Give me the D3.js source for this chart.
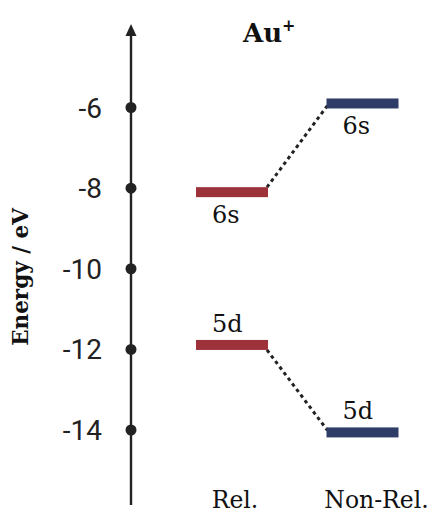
<!DOCTYPE html>
<html>
<head>
<meta charset="utf-8">
<script src="https://cdn.jsdelivr.net/npm/d3@7"></script>
<style>
  html, body { margin: 0; padding: 0; background: #fff; }
  svg { display: block; }
</style>
</head>
<body>
<svg id="chart" width="432" height="515"></svg>
<script>
// ---- data ----
const categories = ["Rel.", "Non-Rel."];
const orbitals = ["6s", "5d"];
const relValues = [-8.10, -11.89];      // Rel.: 6s, 5d (eV)
const nonRelValues = [-5.90, -14.06];   // Non-Rel.: 6s, 5d (eV)
const tickValues = [-6, -8, -10, -12, -14];
const tickLabels = ["-6", "-8", "-10", "-12", "-14"];
const title = "Au";
const titleSup = "+";
const yLabel = "Energy / eV";

// ---- layout ----
const svg = d3.select("#chart");
const axisX = 131;
const y = d3.scaleLinear().domain([-14, -6]).range([430, 107.5]);
const x = d3.scalePoint().domain(categories).range([232, 362.5]);
const barW = 72, barH = 10;
const colors = { "Rel.": "#9e323b", "Non-Rel.": "#2f3c68" };
const ink = "#222";

// axis line + arrow
svg.append("line")
  .attr("x1", axisX).attr("x2", axisX)
  .attr("y1", 505).attr("y2", 32)
  .attr("stroke", ink).attr("stroke-width", 2.4);
svg.append("path")
  .attr("d", `M${axisX},24 L${axisX - 5.5},36 L${axisX + 5.5},36 Z`)
  .attr("fill", ink);

// tick dots & labels
svg.selectAll("circle.tick").data(tickValues).join("circle")
  .attr("class", "tick")
  .attr("cx", axisX).attr("cy", d => y(d)).attr("r", 5.5)
  .attr("fill", ink);
svg.selectAll("text.tick").data(tickValues).join("text")
  .attr("class", "tick")
  .attr("x", 102).attr("y", d => y(d))
  .attr("dy", "0.36em")
  .attr("text-anchor", "end")
  .attr("font-family", "Roboto, sans-serif")
  .attr("font-size", 28)
  .attr("fill", ink)
  .text((d, i) => tickLabels[i]);

// y label
svg.append("text")
  .attr("transform", "translate(28,277) rotate(-90)")
  .attr("text-anchor", "middle")
  .attr("font-family", "'DejaVu Serif', serif")
  .attr("font-weight", "bold")
  .attr("font-size", 21.5)
  .attr("fill", "#111")
  .text(yLabel);

// title
const t = svg.append("text")
  .attr("x", 243).attr("y", 42)
  .attr("text-anchor", "start")
  .attr("font-family", "'DejaVu Serif', serif")
  .attr("font-weight", "bold")
  .attr("font-size", 26)
  .attr("fill", "#111");
t.append("tspan").text(title);
t.append("tspan").attr("font-size", 16).attr("dy", -11).text(titleSup);

// levels
const levels = [];
orbitals.forEach((o, i) => {
  levels.push({ cat: "Rel.", orb: o, v: relValues[i] });
  levels.push({ cat: "Non-Rel.", orb: o, v: nonRelValues[i] });
});

// connectors
orbitals.forEach((o, i) => {
  const r = relValues[i], n = nonRelValues[i];
  const dir = n > r ? -1 : 1; // -1 upward in pixels
  svg.append("line")
    .attr("x1", x("Rel.") + barW / 2 - 1)
    .attr("y1", y(r) + dir * barH / 2)
    .attr("x2", x("Non-Rel.") - barW / 2 + 1)
    .attr("y2", y(n) - dir * 2)
    .attr("stroke", "#222")
    .attr("stroke-width", 3)
    .attr("stroke-dasharray", "3.5,3.5");
});

svg.selectAll("rect.level").data(levels).join("rect")
  .attr("class", "level")
  .attr("x", d => x(d.cat) - barW / 2)
  .attr("y", d => y(d.v) - barH / 2)
  .attr("width", barW).attr("height", barH)
  .attr("fill", d => colors[d.cat]);

// level labels
svg.selectAll("text.level").data(levels).join("text")
  .attr("class", "level")
  .attr("x", d => x(d.cat) - barW / 2 + 16)
  .attr("y", d => {
    const above = d.orb === "5d";
    return above ? y(d.v) - barH / 2 - 8 : y(d.v) + barH / 2 + 26;
  })
  .attr("font-family", "'DejaVu Serif', serif")
  .attr("font-size", 24)
  .attr("fill", "#111")
  .text(d => d.orb);

// category labels
const catDx = [3, 14];
svg.selectAll("text.cat").data(categories).join("text")
  .attr("class", "cat")
  .attr("x", (d, i) => x(d) + catDx[i])
  .attr("y", 508)
  .attr("text-anchor", "middle")
  .attr("font-family", "'DejaVu Serif', serif")
  .attr("font-size", 23.5)
  .attr("fill", "#111")
  .text(d => d);
</script>
</body>
</html>
